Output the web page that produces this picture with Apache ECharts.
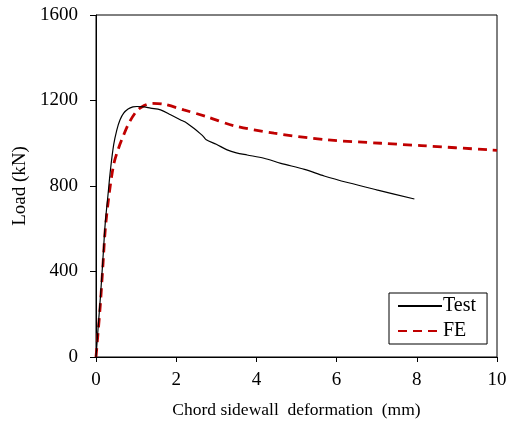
<!DOCTYPE html>
<html><head><meta charset="utf-8">
<script src="https://cdn.jsdelivr.net/npm/echarts@6/dist/echarts.min.js"></script>
<style>html,body{margin:0;padding:0;background:#fff}#c{width:513px;height:425px}</style>
</head><body><div id="c"></div>
<script>
const xTicks = [0, 2, 4, 6, 8, 10];
const yTicks = [0, 400, 800, 1200, 1600];
const testData = [[0,0],[0.05,130],[0.11,281],[0.17,450],[0.23,625],[0.3,760],[0.36,875],[0.44,992],[0.52,1063],[0.6,1110],[0.69,1141],[0.8,1160],[0.92,1170],[1.02,1172],[1.2,1170],[1.36,1164],[1.61,1156],[1.86,1133],[2.1,1110],[2.27,1094],[2.44,1070],[2.6,1045],[2.68,1031],[2.75,1016],[3.0,995],[3.27,969],[3.5,955],[3.77,945],[4.19,930],[4.61,906],[5.2,878],[5.69,847],[6.3,815],[7.0,782],[7.94,739]];
const feData = [[0,0],[0.05,110],[0.11,250],[0.17,420],[0.23,594],[0.32,750],[0.44,900],[0.55,970],[0.65,1020],[0.82,1094],[1.02,1152],[1.2,1176],[1.4,1187],[1.69,1183],[2.19,1156],[2.75,1125],[3.44,1082],[4.44,1047],[5.77,1016],[7.11,1000],[8.11,989],[9.82,969],[10,967]];

const font = '"Liberation Serif", "Times New Roman", serif';
const chart = echarts.init(document.getElementById('c'));
chart.setOption({
  animation: false,
  textStyle: {fontFamily: font, color: '#000'},
  grid: {left: 96, top: 15, right: 16, bottom: 68, show: true, borderColor: '#000', borderWidth: 1},
  legend: {
    orient: 'vertical', left: 389, top: 293,
    borderColor: '#000', borderWidth: 1, padding: [3, 11, 3, 8],
    itemWidth: 44, itemHeight: 10, itemGap: 5,
    itemStyle: {opacity: 0},
    textStyle: {fontFamily: font, fontSize: 20, color: '#000', padding: [0,4,0,-4]},
    data: [{name: 'Test'}, {name: 'FE'}]
  },
  xAxis: {
    type: 'value', min: xTicks[0], max: xTicks[xTicks.length-1], interval: 2,
    name: 'Chord sidewall  deformation  (mm)', nameLocation: 'middle', nameGap: 44,
    nameTextStyle: {fontFamily: font, fontSize: 17.5, color: '#000'},
    axisLine: {lineStyle: {color: '#000', width: 1}},
    axisTick: {show: true, inside: false, length: 5, lineStyle: {color: '#000'}},
    axisLabel: {fontFamily: font, fontSize: 19, color: '#000', margin: 14},
    splitLine: {show: false}
  },
  yAxis: {
    type: 'value', min: yTicks[0], max: yTicks[yTicks.length-1], interval: 400,
    name: 'Load (kN)', nameLocation: 'middle', nameGap: 54, nameRotate: 90,
    nameTextStyle: {fontFamily: font, fontSize: 19, color: '#000'},
    axisLine: {show: true, lineStyle: {color: '#000', width: 1}},
    axisTick: {show: true, inside: false, length: 6, lineStyle: {color: '#000'}},
    axisLabel: {fontFamily: font, fontSize: 19, color: '#000', margin: 18, formatter: v => String(v)},
    splitLine: {show: false}
  },
  series: [
    {name: 'Test', type: 'line', data: testData, showSymbol: false, symbol: 'none', smooth: 0.3,
     lineStyle: {color: '#000', width: 1.2}, itemStyle: {color: '#000'}, z: 3},
    {name: 'FE', type: 'line', data: feData, showSymbol: false, symbol: 'none', smooth: 0.3,
     lineStyle: {color: '#c00000', width: 2.8, type: [9, 6]}, itemStyle: {color: '#c00000'}, z: 2}
  ]
});
</script></body></html>
